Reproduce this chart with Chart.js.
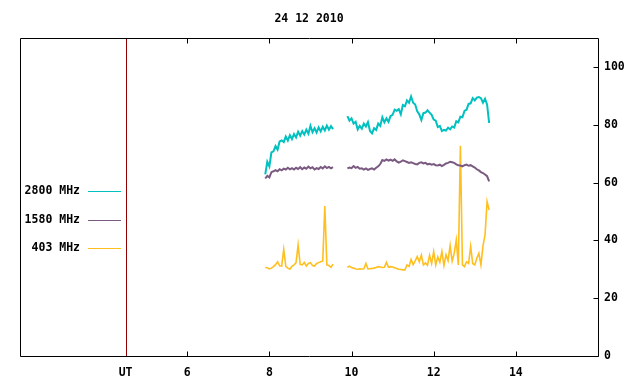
<!DOCTYPE html>
<html><head><meta charset="utf-8">
<script src="https://cdn.jsdelivr.net/npm/chart.js"></script>
<style>html,body{margin:0;padding:0;background:#fff}#c{display:block}</style>
</head><body>
<canvas id="c" width="640" height="384"></canvas>
<script>
const chartTitle = '24 12 2010';
const seriesLabels = ['2800 MHz', '1580 MHz', '403 MHz'];
const seriesColors = ['#00c0c0', '#7a5a80', '#ffbf1f'];
const xTickValues = [6, 8, 10, 12, 14];
const yTickValues = [0, 20, 40, 60, 80, 100];
const utMarker = 4.5;
const utLabel = 'UT';
// sampling of the two observation segments (hours UT)
const seg1Start = 7.90, seg2Start = 9.90, sampleStep = 0.05;

const mhz2800_a = [62.8,67.2,65.6,70.4,70.8,72.6,71.4,74.2,74.6,74.0,75.9,74.5,76.4,75.0,76.8,75.6,77.6,76.2,77.8,76.6,78.3,76.9,79.6,77.4,78.8,77.3,79.1,77.7,79.3,78.0,79.7,78.3,79.5,78.5];
const mhz2800_b = [83.0,81.4,82.2,80.4,81.0,78.4,79.6,78.6,80.4,79.4,
                   80.9,77.8,77.0,78.8,78.2,80.4,79.6,82.6,80.8,82.2,
                   81.0,83.0,83.4,85.2,84.8,85.4,83.6,86.8,86.4,88.4,
                   87.6,89.8,87.6,87.0,84.6,83.6,81.6,84.0,84.2,85.0,
                   84.2,83.4,81.8,81.4,79.2,79.6,77.8,78.2,78.0,79.0,
                   78.4,79.4,79.0,81.2,80.8,82.8,82.6,84.8,85.2,87.2,
                   87.4,89.2,88.4,89.4,89.6,89.2,87.6,89.0,87.0,80.6];
const mhz1580_a = [61.4,62.3,61.8,63.6,63.9,64.3,63.9,64.6,64.2,64.8,64.5,65.1,64.6,65.0,64.5,65.1,64.7,65.3,64.6,65.2,64.8,65.5,64.9,65.3,64.5,65.0,64.7,65.4,64.9,65.6,65.0,65.4,64.9,65.3];
const mhz1580_b = [64.9,65.2,65.0,65.7,65.1,65.4,64.8,64.9,64.5,64.9,
                   64.4,64.7,64.9,64.5,65.1,65.6,66.4,67.8,67.5,68.0,
                   67.6,67.9,67.5,68.0,67.3,66.9,67.2,67.7,67.4,67.1,
                   66.8,67.0,66.7,66.4,66.3,66.8,67.0,66.6,66.8,66.3,
                   66.5,66.2,66.4,66.0,65.9,66.2,65.7,66.1,66.6,66.8,
                   67.2,67.0,66.8,66.3,66.0,65.9,65.6,66.0,66.2,65.8,
                   66.0,65.6,65.2,64.6,64.2,63.6,63.3,62.8,62.2,60.4];
const mhz403_a = [30.6,30.5,30.1,30.4,30.9,31.6,32.6,31.2,31.1,36.9,31.0,30.4,30.0,31.0,31.5,32.3,38.4,31.7,31.5,32.4,31.1,32.0,32.3,31.3,31.1,32.0,32.3,32.6,32.9,51.9,31.5,31.3,30.7,31.8];
const mhz403_b = [30.7,31.1,30.6,30.4,30.1,30.0,30.2,30.1,30.2,32.0,
                  30.1,30.2,30.3,30.4,30.6,30.9,30.8,30.6,30.7,32.4,
                  30.7,30.9,30.8,30.5,30.3,30.0,29.9,29.8,29.8,31.5,
                  31.0,33.4,31.6,32.9,34.4,32.6,34.9,31.5,32.2,31.4,
                  34.8,32.0,36.1,31.5,34.3,32.4,36.1,31.3,35.0,33.0,
                  38.2,32.8,35.5,40.1,31.5,72.7,31.5,30.9,32.6,32.0,
                  37.9,32.0,31.5,33.8,35.5,31.5,38.1,41.9,53.4,50.5];

function buildSeries(a, b) {
  const pts = a.map((v, i) => ({x: seg1Start + i * sampleStep, y: v}));
  pts.push({x: (seg1Start + (a.length - 1) * sampleStep + seg2Start) / 2, y: null});
  b.forEach((v, i) => pts.push({x: seg2Start + i * sampleStep, y: v}));
  return pts;
}
const seriesData = [buildSeries(mhz2800_a, mhz2800_b), buildSeries(mhz1580_a, mhz1580_b), buildSeries(mhz403_a, mhz403_b)];
const seriesWidths = [2, 2, 1.6];

const FONT = 'DejaVu Sans Mono';
const FSIZE = 11.5;
const font = {family: FONT, size: FSIZE, weight: 'bold'};

const framePlugin = {
  id: 'frame',
  beforeDatasetsDraw(chart) {
    const {ctx, chartArea: a, scales: {x}} = chart;
    ctx.save();
    const ux = Math.round(x.getPixelForValue(utMarker)) + 0.5;
    ctx.strokeStyle = '#900000'; ctx.lineWidth = 1;
    ctx.beginPath(); ctx.moveTo(ux, a.top); ctx.lineTo(ux, a.bottom); ctx.stroke();
    ctx.restore();
  },
  afterDraw(chart) {
    const {ctx, chartArea: a, scales: {x, y}} = chart;
    ctx.save();
    ctx.strokeStyle = '#000'; ctx.lineWidth = 1;
    const L = Math.round(a.left) + 0.5, R = Math.round(a.right) + 0.5, T = Math.round(a.top) + 0.5, B = Math.round(a.bottom) + 0.5;
    ctx.beginPath(); ctx.rect(L, T, R - L, B - T); ctx.stroke();
    ctx.beginPath();
    xTickValues.forEach(v => {
      const px = Math.round(x.getPixelForValue(v)) + 0.5;
      ctx.moveTo(px, B); ctx.lineTo(px, B - 5);
      ctx.moveTo(px, T); ctx.lineTo(px, T + 5);
    });
    yTickValues.forEach(v => {
      const py = Math.round(y.getPixelForValue(v)) + 0.5;
      ctx.moveTo(R, py); ctx.lineTo(R - 5, py);
    });
    ctx.stroke();
    ctx.fillStyle = '#000';
    ctx.font = 'bold ' + FSIZE + 'px "' + FONT + '"';
    ctx.textAlign = 'center'; ctx.textBaseline = 'middle';
    ctx.fillText(chartTitle, (a.left + a.right) / 2, 19);
    ctx.textAlign = 'right';
    chart.data.datasets.forEach((ds, i) => {
      const ly = Math.round(191 + i * 28.6) + 0.5;
      ctx.fillText(ds.label, 80, ly);
      ctx.strokeStyle = ds.borderColor;
      ctx.lineWidth = 1;
      ctx.beginPath(); ctx.moveTo(88, ly); ctx.lineTo(121, ly); ctx.stroke();
    });
    ctx.restore();
  }
};

new Chart(document.getElementById('c'), {
  type: 'line',
  data: {
    datasets: seriesLabels.map((lab, i) => ({
      label: lab, data: seriesData[i], borderColor: seriesColors[i], backgroundColor: seriesColors[i],
      borderWidth: seriesWidths[i], pointRadius: 0, tension: 0, spanGaps: false, fill: false
    }))
  },
  options: {
    responsive: false, animation: false,
    layout: {padding: {left: 20, top: 38, right: 0, bottom: 0}},
    plugins: {legend: {display: false}, title: {display: false}, tooltip: {enabled: false}},
    scales: {
      x: {
        type: 'linear', min: 1.93, max: 16,
        grid: {display: false, drawTicks: false}, border: {display: false},
        afterBuildTicks: s => { s.ticks = [utMarker, ...xTickValues].map(v => ({value: v})); },
        afterFit: s => { s.height = 28; },
        ticks: {padding: 10, font: font, color: '#000', maxRotation: 0, autoSkip: false,
                callback: v => v === utMarker ? utLabel : String(v)}
      },
      y: {
        type: 'linear', position: 'right', min: 0, max: 110,
        grid: {display: false, drawTicks: false}, border: {display: false},
        afterBuildTicks: s => { s.ticks = yTickValues.map(v => ({value: v})); },
        afterFit: s => { s.width = 42; },
        ticks: {padding: 6, font: font, color: '#000', autoSkip: false}
      }
    }
  },
  plugins: [framePlugin]
});
</script>
</body></html>
